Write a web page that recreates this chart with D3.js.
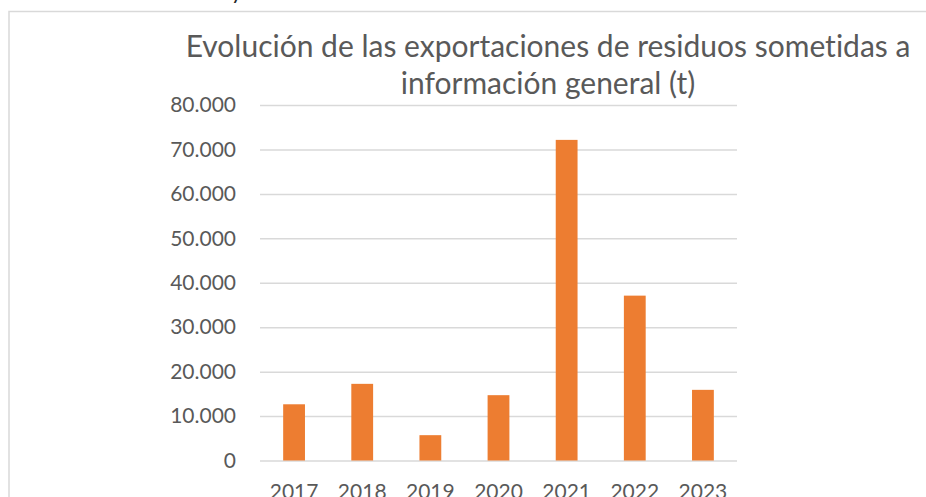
<!DOCTYPE html>
<html>
<head>
<meta charset="utf-8">
<script src="https://cdn.jsdelivr.net/npm/d3@7"></script>
<style>
  body { margin: 0; background: #fff; overflow: hidden; }
  svg { display: block; }
  text { font-family: Lato, "Open Sans", sans-serif; fill: #595959; font-variant-ligatures: none; }
</style>
</head>
<body>
<div id="chart"></div>
<script>
// data
var years = ["2017", "2018", "2019", "2020", "2021", "2022", "2023"];
var tonnes = [12650, 17250, 5700, 14700, 72150, 37100, 15900];
var yTicks = [0, 10000, 20000, 30000, 40000, 50000, 60000, 70000, 80000];
var titleLines = ["Evolución de las exportaciones de residuos sometidas a", "información general (t)"];

var width = 926, height = 497;
var margin = {top: 105, right: 189, bottom: 36.5, left: 260};

var svg = d3.select("#chart").append("svg")
    .attr("width", width)
    .attr("height", height);

// chart area frame (cut by the window on the right and bottom)
svg.append("rect")
    .attr("x", 9).attr("y", 11.5)
    .attr("width", 960).attr("height", 520)
    .attr("fill", "none")
    .attr("stroke", "#d9d9d9")
    .attr("stroke-width", 1.5);

// tail of a letter from the text above the chart
svg.append("text")
    .attr("x", 231).attr("y", -1.5)
    .style("font-size", "22px")
    .style("fill", "#262626")
    .text("y");

var x = d3.scaleBand()
    .domain(years)
    .range([margin.left, width - margin.right])
    .paddingInner(0.68)
    .paddingOuter(0.34);

var y = d3.scaleLinear()
    .domain([0, 80000])
    .range([height - margin.bottom, margin.top]);

var fmt = function(d) { return d === 0 ? "0" : d3.format(",")(d).replace(/,/g, "."); };

// gridlines
svg.append("g")
    .attr("transform", "translate(" + margin.left + ",0)")
    .call(d3.axisLeft(y).tickValues(yTicks).tickSize(-(width - margin.right - margin.left)).tickFormat(""))
    .call(function(g) { g.select(".domain").remove(); })
    .call(function(g) { g.selectAll("line").attr("stroke", "#d9d9d9").attr("stroke-width", 1.5); });

// y labels
svg.append("g")
    .attr("transform", "translate(" + margin.left + ",0)")
    .call(d3.axisLeft(y).tickValues(yTicks).tickSize(0).tickPadding(24).tickFormat(fmt))
    .call(function(g) { g.select(".domain").remove(); })
    .call(function(g) { g.selectAll("text").style("font-size", "21px").attr("fill", "#595959"); });

// bars
svg.append("g").selectAll("rect")
    .data(years)
    .enter().append("rect")
    .attr("x", function(d) { return x(d); })
    .attr("y", function(d, i) { return y(tonnes[i]); })
    .attr("width", x.bandwidth())
    .attr("height", function(d, i) { return y(0) - y(tonnes[i]); })
    .attr("fill", "#ed7d31");

// x labels
svg.append("g")
    .attr("transform", "translate(0," + (height - margin.bottom) + ")")
    .call(d3.axisBottom(x).tickSize(0).tickPadding(24))
    .call(function(g) { g.select(".domain").remove(); })
    .call(function(g) { g.selectAll("text").style("font-size", "21px").attr("fill", "#595959"); });

// title
svg.append("text")
    .attr("x", 548)
    .attr("y", 57)
    .attr("text-anchor", "middle")
    .style("font-size", "30px")
    .selectAll("tspan")
    .data(titleLines)
    .enter().append("tspan")
    .attr("x", 548)
    .attr("dy", function(d, i) { return i === 0 ? 0 : 37; })
    .text(function(d) { return d; });
</script>
</body>
</html>
